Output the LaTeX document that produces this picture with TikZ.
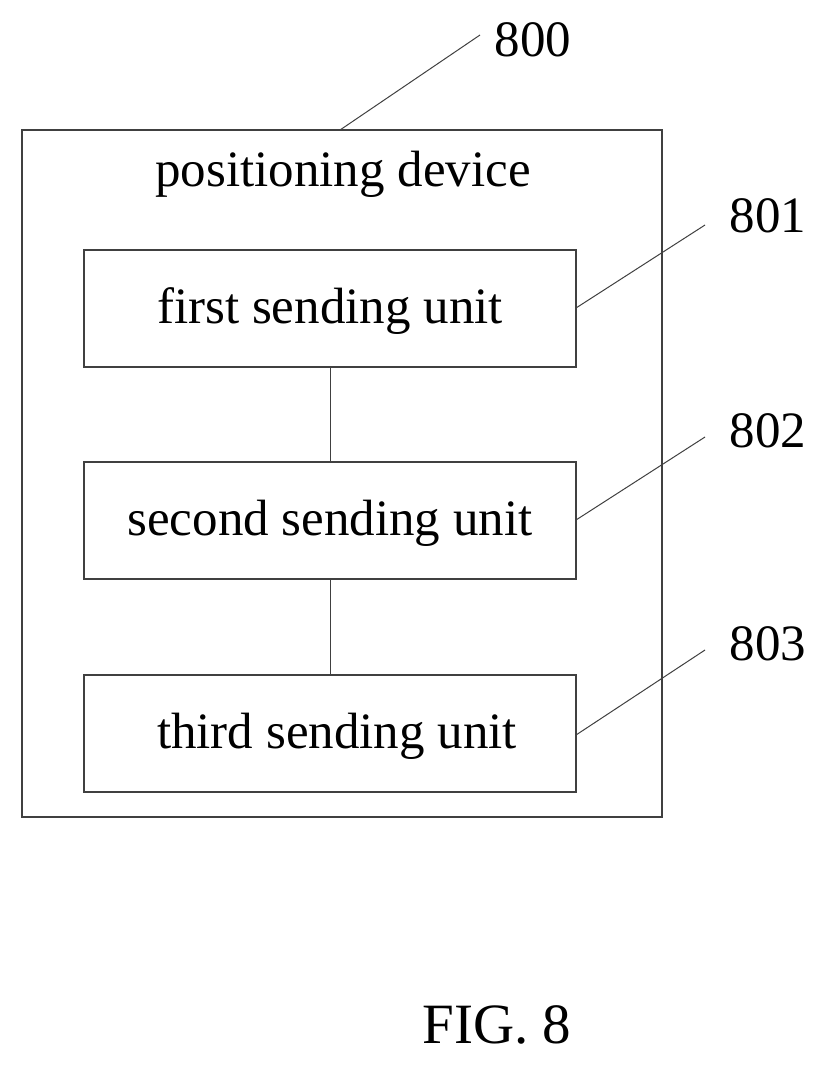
\documentclass[tikz,border=0pt]{standalone}
\usepackage{fontspec}
\setmainfont{Liberation Serif}
\begin{document}
\begin{tikzpicture}[x=1pt,y=-1pt,line width=1.3pt,
  box/.style={draw,black!75,text=black},
  lbl/.style={font=\fontsize{51}{58}\selectfont},
  lead/.style={black!75,line width=1pt}]
\useasboundingbox (0,0) rectangle (826,1066);
\draw[box] (22,130) rectangle (662,817);
\node[lbl] (t) at (343,174) {positioning device};
\coordinate (o) at (340,130);
\draw[box] (84,250) rectangle (576,367);
\draw[box] (84,462) rectangle (576,579);
\draw[box] (84,675) rectangle (576,792);
\node[lbl] (a) at (330,311) {first sending unit};
\node[lbl] (b) at (330,523) {second sending unit};
\node[lbl] (c) at (337,736) {third sending unit};
\coordinate (a1) at (330,367); \coordinate (b0) at (330,462);
\coordinate (b1) at (330,579); \coordinate (c0) at (330,675);
\draw[lead] (a1) -- (b0); \draw[lead] (b1) -- (c0);
\node[lbl] (n0) at (533,40) {800};
\node[lbl] (n1) at (768,216) {801};
\node[lbl] (n2) at (768,431) {802};
\node[lbl] (n3) at (768,644) {803};
\coordinate (e0) at (480,35); \coordinate (e1) at (705,225);
\coordinate (e2) at (705,437); \coordinate (e3) at (705,650);
\coordinate (s1) at (576,308); \coordinate (s2) at (576,520); \coordinate (s3) at (576,735);
\draw[lead] (o) -- (e0); \draw[lead] (s1) -- (e1);
\draw[lead] (s2) -- (e2); \draw[lead] (s3) -- (e3);
\node[font=\fontsize{57}{64}\selectfont] (fig) at (497,1025) {FIG. 8};
\end{tikzpicture}
\end{document}
